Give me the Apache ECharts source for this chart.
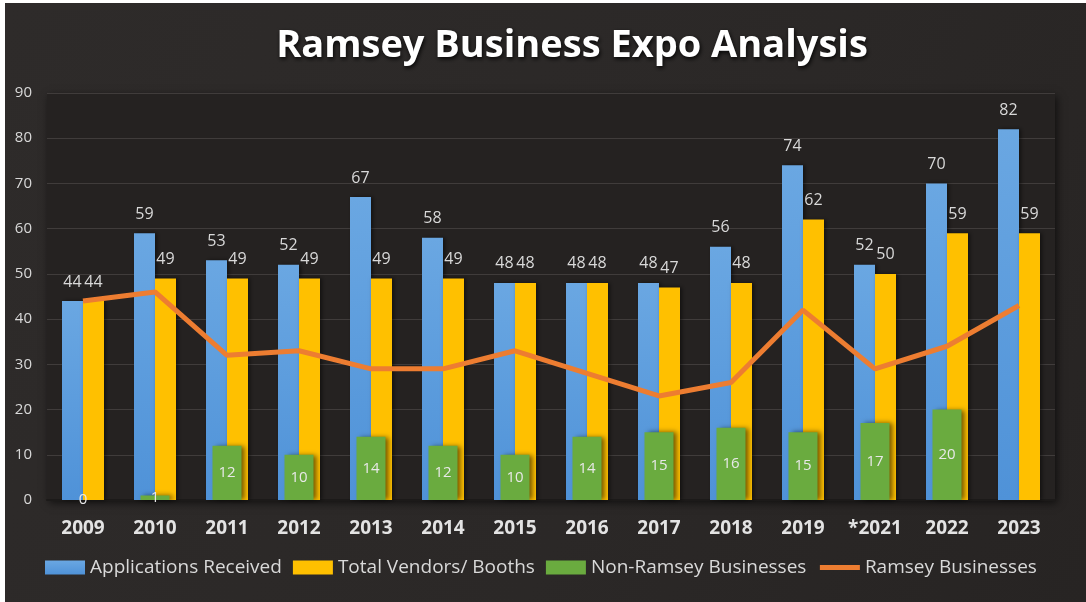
<!DOCTYPE html>
<html>
<head>
<meta charset="utf-8">
<script src="https://cdn.jsdelivr.net/npm/echarts@6/dist/echarts.min.js"></script>
<style>
  html, body { margin: 0; padding: 0; background: #ffffff; }
  #chart { position: absolute; left: 5px; top: 3px; width: 1081px; height: 599px; }
</style>
</head>
<body>
<div id="chart"></div>
<script>
// years on the x axis (2020 was skipped)
var years = ['2009', '2010', '2011', '2012', '2013', '2014', '2015', '2016', '2017', '2018', '2019', '*2021', '2022', '2023'];
var applications = [44, 59, 53, 52, 67, 58, 48, 48, 48, 56, 74, 52, 70, 82];
var vendors = [44, 49, 49, 49, 49, 49, 48, 48, 47, 48, 62, 50, 59, 59];
var nonRamsey = [0, 1, 12, 10, 14, 12, 10, 14, 15, 16, 15, 17, 20, null];
var ramsey = [44, 46, 32, 33, 29, 29, 33, 28, 23, 26, 42, 29, 34, 43];

var labelColor = '#d9d9d9';
var font = '"Open Sans", sans-serif';

var chart = echarts.init(document.getElementById('chart'));

var option = {
  backgroundColor: {
    type: 'linear', x: 0, y: 0, x2: 1, y2: 1,
    colorStops: [
      { offset: 0, color: '#2e2b2a' },
      { offset: 0.6, color: '#2b2827' },
      { offset: 1, color: '#272423' }
    ]
  },
  animation: false,
  textStyle: { fontFamily: font },
  title: {
    text: 'Ramsey Business Expo Analysis',
    left: 562,
    textAlign: 'center',
    top: 19,
    textStyle: {
      color: '#ffffff',
      fontFamily: font,
      fontWeight: 'bold',
      fontSize: 38,
      textShadowColor: 'rgba(0,0,0,0.9)',
      textShadowBlur: 4,
      textShadowOffsetX: 1,
      textShadowOffsetY: 2
    }
  },
  legend: {
    bottom: 20,
    left: 35,
    itemWidth: 40,
    itemHeight: 14,
    itemGap: 11,
    textStyle: { color: labelColor, fontSize: 19, fontFamily: font },
    data: [
      { name: 'Applications Received', icon: 'rect' },
      { name: 'Total Vendors/ Booths', icon: 'rect' },
      { name: 'Non-Ramsey Businesses', icon: 'rect' },
      { name: 'Ramsey Businesses', itemStyle: { opacity: 0 }, lineStyle: { width: 5, color: '#ed7d31', opacity: 1 } }
    ]
  },
  grid: {
    left: 42,
    right: 31,
    top: 90,
    bottom: 102,
    show: true,
    backgroundColor: '#252221',
    borderWidth: 0,
    shadowColor: 'rgba(0,0,0,0.6)',
    shadowBlur: 8,
    shadowOffsetX: 2,
    shadowOffsetY: 3
  },
  xAxis: [
    {
      type: 'category',
      data: years,
      axisTick: { show: false },
      axisLine: { show: true, lineStyle: { color: '#1c1a19', width: 2 } },
      axisLabel: { color: '#e3e3e3', fontSize: 19, fontWeight: 'bold', margin: 19, interval: 0 }
    },
    {
      type: 'category',
      data: years,
      show: false,
      position: 'bottom'
    }
  ],
  yAxis: {
    type: 'value',
    min: 0,
    max: 90,
    interval: 10,
    axisLine: { show: false },
    axisTick: { show: false },
    axisLabel: { color: labelColor, fontSize: 15, margin: 15 },
    splitLine: { lineStyle: { color: '#403c3b', width: 1 } }
  },
  series: [
    {
      name: 'Applications Received',
      type: 'bar',
      data: applications,
      barWidth: 21,
      barGap: '0%',
      itemStyle: {
        color: {
          type: 'linear', x: 0, y: 0, x2: 0, y2: 1,
          colorStops: [
            { offset: 0, color: '#6aa7e2' },
            { offset: 1, color: '#4f92d8' }
          ]
        },
        shadowColor: 'rgba(0,0,0,0.5)',
        shadowBlur: 4,
        shadowOffsetX: 2
      },
      label: { show: true, position: 'top', distance: 11, color: labelColor, fontSize: 16 }
    },
    {
      name: 'Total Vendors/ Booths',
      type: 'bar',
      data: vendors,
      barWidth: 21,
      itemStyle: {
        color: '#ffc000',
        shadowColor: 'rgba(0,0,0,0.5)',
        shadowBlur: 4,
        shadowOffsetX: 2
      },
      label: { show: true, position: 'top', distance: 11, color: labelColor, fontSize: 16 }
    },
    {
      name: 'Non-Ramsey Businesses',
      type: 'bar',
      xAxisIndex: 1,
      data: nonRamsey,
      barWidth: 29,
      z: 3,
      itemStyle: {
        color: '#6aab3f',
        shadowColor: 'rgba(0,0,0,0.55)',
        shadowBlur: 5,
        shadowOffsetX: 3
      },
      label: { show: true, position: 'inside', color: '#e8e8e8', fontSize: 15 }
    },
    {
      name: 'Ramsey Businesses',
      type: 'line',
      data: ramsey,
      symbol: 'none',
      z: 4,
      lineStyle: { color: '#ed7d31', width: 5 },
      itemStyle: { color: '#ed7d31' }
    }
  ]
};

chart.setOption(option);
</script>
</body>
</html>
